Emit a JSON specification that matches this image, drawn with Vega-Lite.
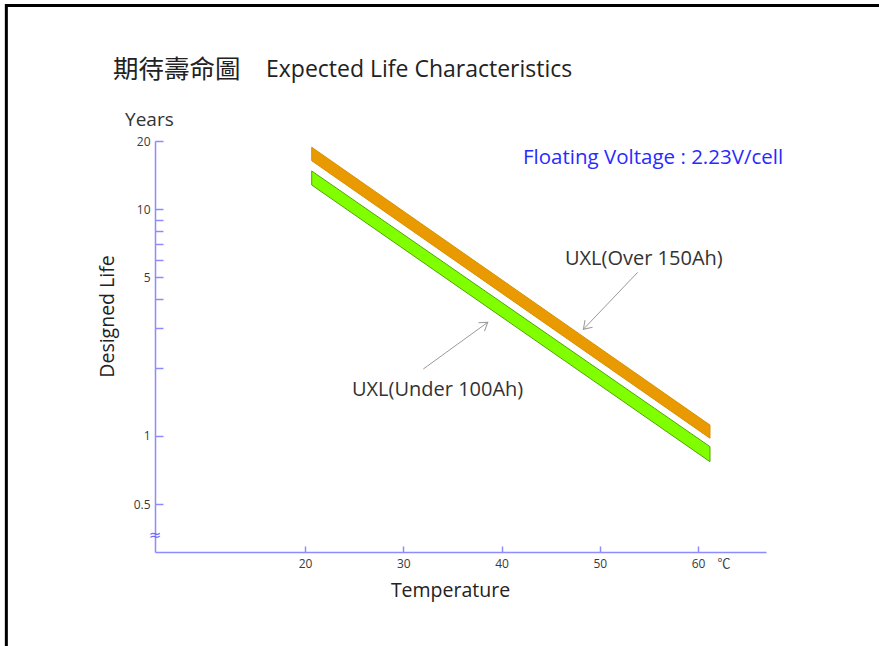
{
  "$schema": "https://vega.github.io/schema/vega-lite/v6.json",
  "width": 611,
  "height": 411,
  "autosize": "none",
  "padding": {"left": 155, "top": 141, "right": 113, "bottom": 94},
  "background": "white",
  "config": {"view": {"stroke": null}, "font": "Open Sans"},
  "layer": [
    {
      "data": {"values": [
        {"series": "over", "t": 20.68, "hi": 18.77, "lo": 16.37},
        {"series": "over", "t": 61.22, "hi": 1.117, "lo": 0.977},
        {"series": "under", "t": 20.68, "hi": 14.75, "lo": 12.79},
        {"series": "under", "t": 61.22, "hi": 0.897, "lo": 0.770}
      ]},
      "mark": {"type": "area", "strokeWidth": 1},
      "encoding": {
        "x": {"field": "t", "type": "quantitative", "scale": {"domain": [4.73, 66.92], "nice": false, "zero": false},
          "axis": {"values": [20, 30, 40, 50, 60], "title": "Temperature", "titleFontSize": 19.5, "titleFontWeight": "normal", "titleColor": "#222222", "titleFont": "Open Sans", "titleX": 295, "titleY": 38, "titleBaseline": "middle", "titleAlign": "center",
            "domainColor": "#8c8cff", "domainWidth": 1.5, "tickColor": "#8c8cff", "tickWidth": 1.5, "tickSize": -6, "labelColor": "#3a3a3a", "labelFontSize": 12, "labelPadding": 12, "grid": false, "labelOverlap": false, "labelFlush": false}},
        "y": {"field": "hi", "type": "quantitative", "scale": {"type": "log", "domain": [0.3077, 20], "nice": false},
          "axis": {"values": [0.5, 1, 2, 3, 4, 5, 6, 7, 8, 9, 10, 20], "format": "~g",
            "labelExpr": "(datum.value==0.5||datum.value==1||datum.value==5||datum.value==10||datum.value==20) ? datum.label : ''",
            "title": "Designed Life", "titleFontSize": 19.5, "titleFontWeight": "normal", "titleColor": "#222222", "titleFont": "Open Sans", "titleX": -48, "titleY": 175, "titleAngle": -90, "titleBaseline": "middle", "titleAlign": "center",
            "domainColor": "#8c8cff", "domainWidth": 1.5, "tickColor": "#8c8cff", "tickWidth": 1.5, "tickSize": -8, "labelColor": "#3a3a3a", "labelFontSize": 12, "labelPadding": 13, "grid": false, "labelOverlap": false, "labelFlush": false}},
        "y2": {"field": "lo"},
        "color": {"field": "series", "type": "nominal", "scale": {"domain": ["over", "under"], "range": ["#E89A00", "#80FF00"]}, "legend": null},
        "stroke": {"field": "series", "type": "nominal", "scale": {"domain": ["over", "under"], "range": ["#DA9000", "#4EA800"]}, "legend": null}
      }
    },
    {
      "data": {"values": [
        {"t": 53.86, "v": 5.27, "t2": 48.33, "v2": 2.954},
        {"t": 32.04, "v": 1.974, "t2": 38.6, "v2": 3.172}
      ]},
      "mark": {"type": "rule", "color": "#9a9a9a", "strokeWidth": 1},
      "encoding": {
        "x": {"field": "t", "type": "quantitative"},
        "y": {"field": "v", "type": "quantitative"},
        "x2": {"field": "t2"},
        "y2": {"field": "v2"}
      }
    },
    {
      "data": {"values": [
        {"t": 48.33, "v": 2.954, "ang": 224},
        {"t": 38.6, "v": 3.172, "ang": 54}
      ]},
      "mark": {"type": "point", "shape": "M-0.6,0.9L0,0L0.6,0.9", "filled": false, "stroke": "#9a9a9a", "strokeWidth": 1, "size": 300, "opacity": 1},
      "encoding": {
        "x": {"field": "t", "type": "quantitative"},
        "y": {"field": "v", "type": "quantitative"},
        "angle": {"field": "ang", "type": "quantitative", "scale": null}
      }
    },
    {
      "data": {"values": [
        {"label": "Years", "t": 1.68, "v": 24.8}
      ]},
      "mark": {"type": "text", "align": "left", "baseline": "middle", "fontSize": 19, "color": "#333333", "font": "Open Sans"},
      "encoding": {
        "x": {"field": "t", "type": "quantitative"},
        "y": {"field": "v", "type": "quantitative"},
        "text": {"field": "label"}
      }
    },
    {
      "data": {"values": [
        {"label": "UXL(Over 150Ah)", "t": 46.46, "v": 6.03},
        {"label": "UXL(Under 100Ah)", "t": 24.78, "v": 1.594}
      ]},
      "mark": {"type": "text", "align": "left", "baseline": "middle", "fontSize": 20, "color": "#333333", "font": "Open Sans"},
      "encoding": {
        "x": {"field": "t", "type": "quantitative"},
        "y": {"field": "v", "type": "quantitative"},
        "text": {"field": "label"}
      }
    },
    {
      "data": {"values": [{"label": "期待壽命圖", "t": 0.46, "v": 41.1}]},
      "mark": {"type": "text", "align": "left", "baseline": "middle", "fontSize": 25.5, "color": "#222222", "font": "Noto Sans CJK TC"},
      "encoding": {
        "x": {"field": "t", "type": "quantitative"},
        "y": {"field": "v", "type": "quantitative"},
        "text": {"field": "label"}
      }
    },
    {
      "data": {"values": [{"label": "Expected Life Characteristics", "t": 16.03, "v": 41.1}]},
      "mark": {"type": "text", "align": "left", "baseline": "middle", "fontSize": 23, "color": "#222222", "font": "Open Sans"},
      "encoding": {
        "x": {"field": "t", "type": "quantitative"},
        "y": {"field": "v", "type": "quantitative"},
        "text": {"field": "label"}
      }
    },
    {
      "data": {"values": [{"label": "Floating Voltage : 2.23V/cell", "t": 42.19, "v": 16.83}]},
      "mark": {"type": "text", "align": "left", "baseline": "middle", "fontSize": 20.5, "color": "#2a2aff", "font": "Open Sans"},
      "encoding": {
        "x": {"field": "t", "type": "quantitative"},
        "y": {"field": "v", "type": "quantitative"},
        "text": {"field": "label"}
      }
    },
    {
      "data": {"values": [{"label": "℃", "t": 62.65, "v": 0.272}]},
      "mark": {"type": "text", "align": "center", "baseline": "middle", "fontSize": 13, "color": "#444444", "font": "Noto Sans CJK TC"},
      "encoding": {
        "x": {"field": "t", "type": "quantitative"},
        "y": {"field": "v", "type": "quantitative"},
        "text": {"field": "label"}
      }
    },
    {
      "data": {"values": [{"label": "≈", "t": 4.73, "v": 0.366}]},
      "mark": {"type": "text", "align": "center", "baseline": "middle", "fontSize": 15, "color": "#6b6bff", "font": "DejaVu Sans"},
      "encoding": {
        "x": {"field": "t", "type": "quantitative"},
        "y": {"field": "v", "type": "quantitative"},
        "text": {"field": "label"}
      }
    },
    {
      "data": {"values": [
        {"t": -10.53, "v": 79.2, "t2": 78.6, "v2": 79.2},
        {"t": -10.40, "v": 80.4, "t2": -10.40, "v2": 0.1184}
      ]},
      "mark": {"type": "rule", "color": "#000000", "strokeWidth": 3},
      "encoding": {
        "x": {"field": "t", "type": "quantitative"},
        "y": {"field": "v", "type": "quantitative"},
        "x2": {"field": "t2"},
        "y2": {"field": "v2"}
      }
    }
  ]
}
